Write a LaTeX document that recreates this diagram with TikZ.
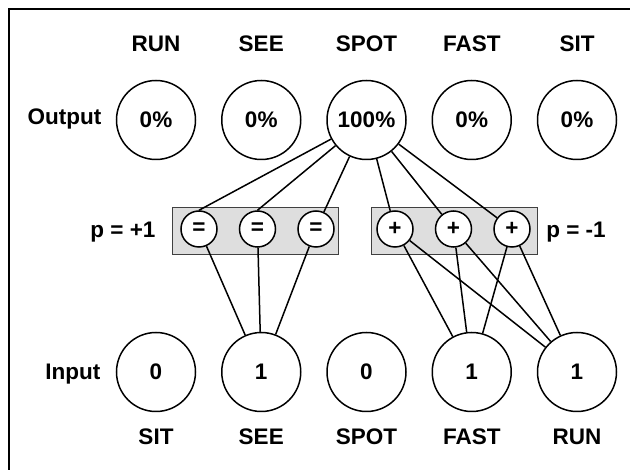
\documentclass[tikz,border=0pt]{standalone}
\usepackage{fontspec}
\setmainfont{Liberation Sans}
\usepackage{tikz}
\usetikzlibrary{arrows}

\begin{document}
\begin{tikzpicture}[x=1pt,y=-1pt,-,auto,node distance=105.25pt,
                    line width=1.5pt]
\tikzstyle{word}=[circle,draw=black,fill=none,minimum size=79pt,inner sep=0pt]
\tikzstyle{gate}=[circle,draw=black,fill=white,minimum size=36pt,inner sep=0pt]
\tikzstyle{gatebox}=[rectangle,draw=black!75,fill=black!13,line width=0.8pt,minimum width=166pt,minimum height=47pt]
\tikzstyle{lbl}=[inner sep=0pt]
\tikzset{font=\fontsize{22.5pt}{27}\selectfont\bfseries}

        \clip (0,0) rectangle (630,470);
        \draw[line width=2pt] (9,9) rectangle (680,520);

        % output row
        \node[word]                (o1) at (156,120)   {0\%};
        \node[lbl, node distance=76pt]     (t1) [above of=o1] {RUN};

        \node[word]                (o2) [right of=o1]  {0\%};
        \node[lbl, node distance=76pt]     (t2) [above of=o2] {SEE};

        \node[word]                (o3) [right of=o2]  {100\%};
        \node[lbl, node distance=76pt]     (t3) [above of=o3] {SPOT};

        \node[word]                (o4) [right of=o3]  {0\%};
        \node[lbl, node distance=76pt]     (t4) [above of=o4] {FAST};

        \node[word]                (o5) [right of=o4]  {0\%};
        \node[lbl, node distance=76pt]     (t5) [above of=o5] {SIT};

        \node[lbl, anchor=base east]   (out) at (102,125) {Output};

        % gates
        \node[gatebox]             (eqbox) at (255,230.5) {};
        \node[gatebox]             (plbox) at (454,230.5) {};

        \node[gate]                (e1) at (199,229)   {=};
        \node[gate, node distance=58.5pt]  (e2) [right of=e1] {=};
        \node[gate, node distance=58.5pt]  (e3) [right of=e2] {=};

        \node[gate]                (p1) at (395,229)   {+};
        \node[gate, node distance=58.5pt]  (p2) [right of=p1] {+};
        \node[gate, node distance=58.5pt]  (p3) [right of=p2] {+};

        \node[lbl, anchor=base]    (peq) at (123,238)  {p = +1};
        \node[lbl, anchor=base]    (ppl) at (576,238)  {p = -1};

        % input row
        \node[word, node distance=252pt]   (i1) [below of=o1] {0};
        \node[lbl, node distance=65pt]     (b1) [below of=i1] {SIT};

        \node[word]                (i2) [right of=i1]  {1};
        \node[lbl, node distance=65pt]     (b2) [below of=i2] {SEE};

        \node[word]                (i3) [right of=i2]  {0};
        \node[lbl, node distance=65pt]     (b3) [below of=i3] {SPOT};

        \node[word]                (i4) [right of=i3]  {1};
        \node[lbl, node distance=65pt]     (b4) [below of=i4] {FAST};

        \node[word]                (i5) [right of=i4]  {1};
        \node[lbl, node distance=65pt]     (b5) [below of=i5] {RUN};

        \node[lbl, anchor=base east]   (in) at (101,380) {Input};

        \path
        (o3)   edge          (e1.north)
        (o3)   edge          (e2.north)
        (o3)   edge          (e3)
        (o3)   edge          (p1)
        (o3)   edge          (p2)
        (o3)   edge          (p3)
        (e1)   edge          (i2)
        (e2)   edge          (i2)
        (e3)   edge          (i2)
        (p1)   edge          (i4)
        (p1)   edge          (i5)
        (p2)   edge          (i4)
        (p2)   edge          (i5)
        (p3)   edge          (i4)
        (p3)   edge          (i5)
        ; %end path

\end{tikzpicture}
\end{document}
